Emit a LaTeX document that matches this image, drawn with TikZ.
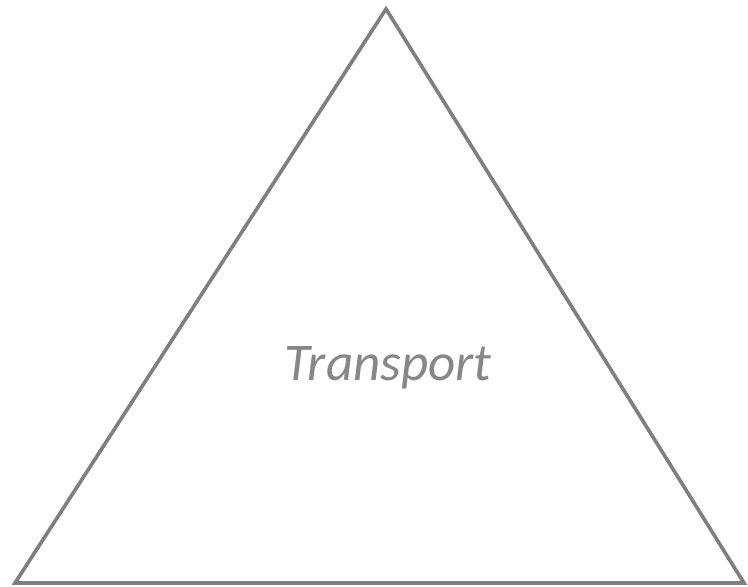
\documentclass[tikz,border=0pt]{standalone}
\usepackage{fontspec}
\setmainfont{Carlito}
\definecolor{linegray}{RGB}{127,127,127}
\definecolor{textgray}{RGB}{135,135,135}
\begin{document}
\begin{tikzpicture}[x=1pt,y=1pt,
  tri/.style={draw=linegray,line width=3.6pt,line join=miter},
  lbl/.style={text=textgray,font=\itshape\fontsize{53}{64}\selectfont,anchor=base,inner sep=0pt}]
\useasboundingbox (0,0) rectangle (748,587);
\coordinate (apex) at (386,578);
\coordinate (bl) at (15,4);
\coordinate (br) at (744,4);
\draw[tri] (apex) -- (bl) -- (br) -- cycle;
\node[lbl] (t) at (388,206) {Transport};
\end{tikzpicture}
\end{document}
